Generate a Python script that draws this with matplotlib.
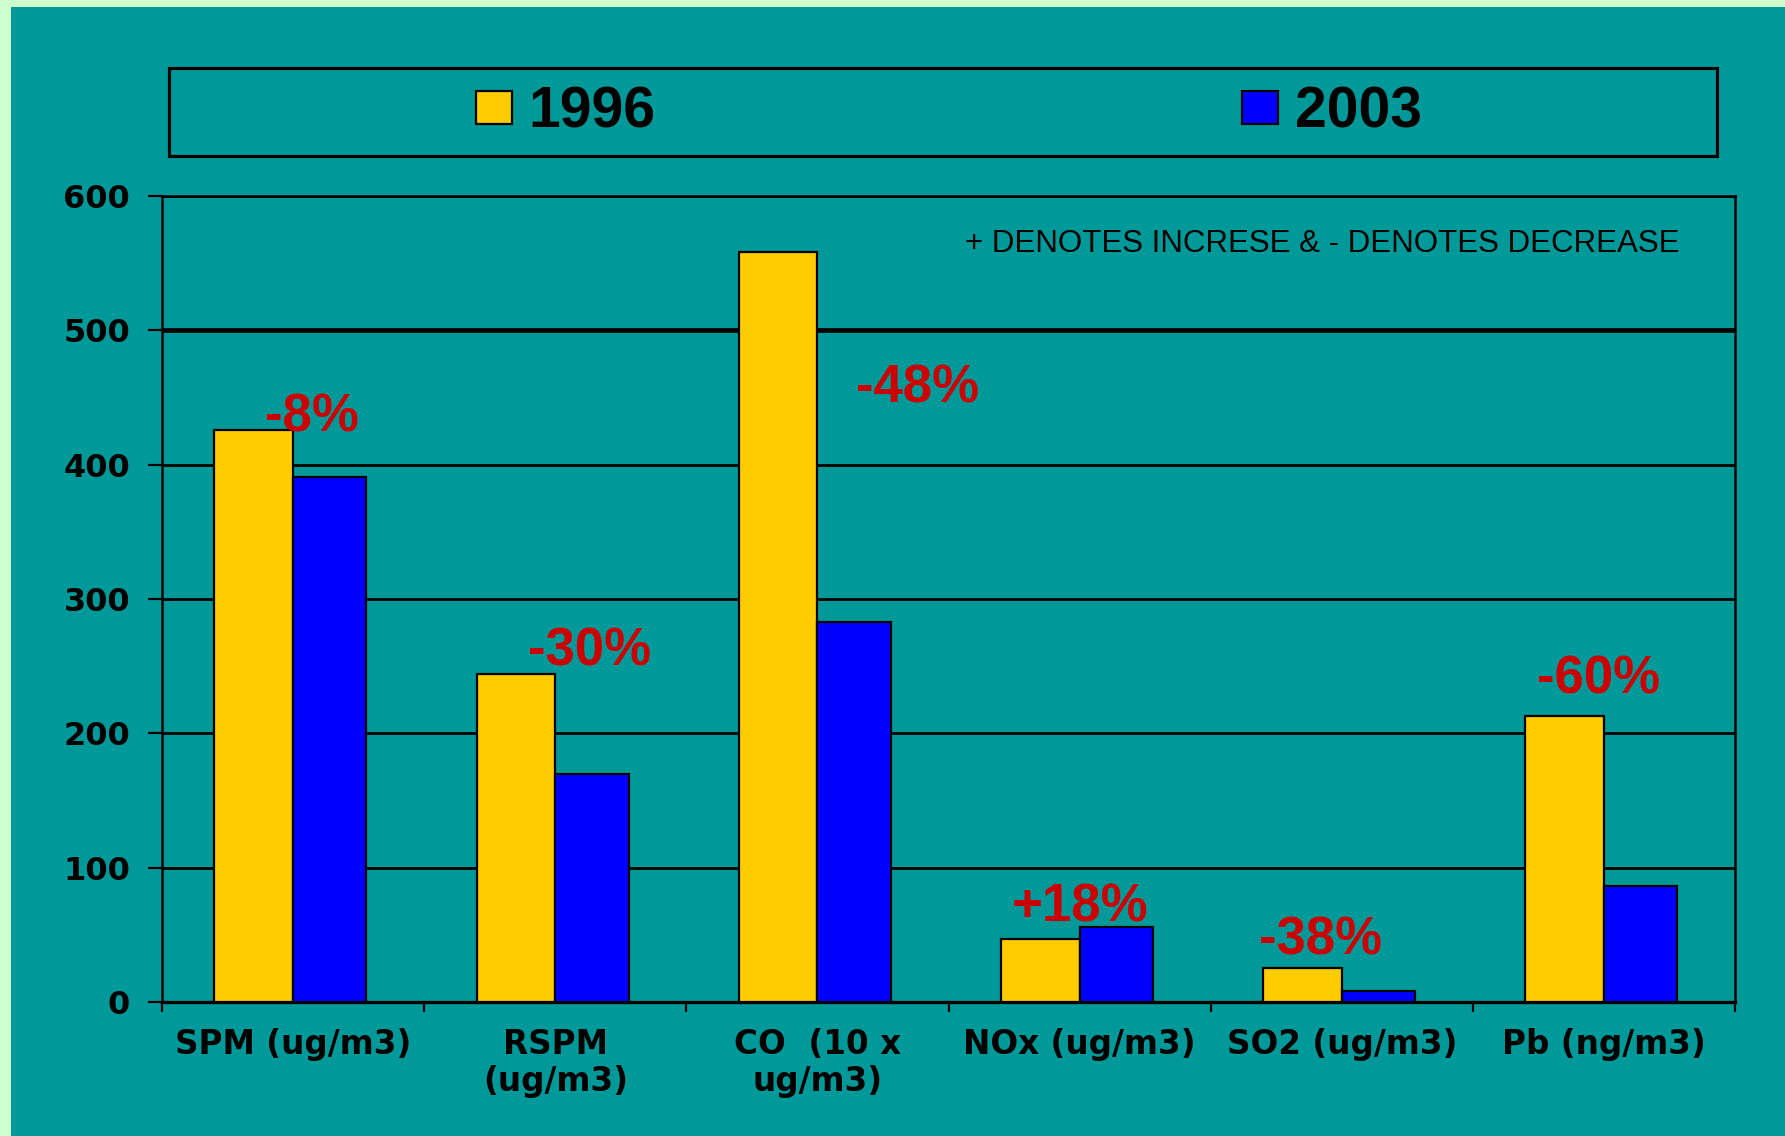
import matplotlib
matplotlib.use("Agg")
import matplotlib.pyplot as plt
from matplotlib.patches import Rectangle
import numpy as np

# ---- data ----
categories = ["SPM (ug/m3)", "RSPM\n(ug/m3)", "CO  (10 x\nug/m3)",
              "NOx (ug/m3)", "SO2 (ug/m3)", "Pb (ng/m3)"]
series_names = ["1996", "2003"]
values_1996 = [426, 244, 558, 47, 25, 213]
values_2003 = [391, 170, 283, 56, 8, 86]
change_labels = ["-8%", "-30%", "-48%", "+18%", "-38%", "-60%"]
y_ticks = [0, 100, 200, 300, 400, 500, 600]
note_text = "+ DENOTES INCRESE & - DENOTES DECREASE"

# annotation placement (offset from category centre, height in data units)
label_dx = [0.07, 0.13, 0.38, 0.0, -0.08, -0.02]
label_y = [435, 261, 457, 70, 46, 240]

TEAL = "#009999"
LIGHT = "#CCFFCC"
YELLOW = "#FFCC00"
BLUE = "#0000FF"
RED = "#CC0000"

W, H = 1785, 1136
fig = plt.figure(figsize=(W / 100, H / 100), dpi=100)
fig.patch.set_facecolor(LIGHT)
fig.patches.append(Rectangle((11 / W, 0), 1 - 11 / W, 1 - 7 / H,
                             transform=fig.transFigure, facecolor=TEAL,
                             edgecolor="none", zorder=0))

ax = fig.add_axes([162 / W, 1 - 1002 / H, (1735 - 162) / W, (1002 - 196) / H])
ax.set_facecolor(TEAL)
ax.set_zorder(1)

x = np.arange(len(categories))
b1 = ax.bar(x - 0.30, values_1996, width=0.30, align="edge", color=YELLOW,
            edgecolor="black", linewidth=1.6, zorder=3, label=series_names[0])
b2 = ax.bar(x, values_2003, width=0.28, align="edge", color=BLUE,
            edgecolor="black", linewidth=1.6, zorder=3, label=series_names[1])

ax.set_xlim(-0.5, len(categories) - 0.5)
ax.set_ylim(0, 600)

for t in y_ticks[1:]:
    ax.axhline(t, color="black", linewidth=3.4 if t == 500 else 2.0, zorder=1)

ax.set_yticks(y_ticks)
ax.set_yticklabels([str(t) for t in y_ticks], fontfamily="DejaVu Sans",
                   fontweight="bold", fontsize=23)
ax.tick_params(axis="y", direction="out", length=10, width=1.6, pad=13,
               colors="black")

ax.set_xticks(x)
ax.set_xticklabels(categories, fontfamily="DejaVu Sans", fontweight="bold",
                   fontsize=23.5, linespacing=1.12)
ax.tick_params(axis="x", which="major", length=0, pad=19)
ax.set_xticks(np.arange(len(categories) + 1) - 0.5, minor=True)
ax.tick_params(axis="x", which="minor", direction="out", length=7, width=1.6)

for s in ax.spines.values():
    s.set_color("black")
    s.set_linewidth(1.8)
ax.spines["bottom"].set_linewidth(2.4)

for i, lab in enumerate(change_labels):
    ax.text(x[i] + label_dx[i], label_y[i], lab, ha="center", va="center",
            color=RED, fontsize=38, fontweight="bold",
            fontfamily="Liberation Sans", zorder=4)

fig.text(965 / W, 1 - 244 / H, note_text, ha="left", va="center",
         fontsize=22.5, fontfamily="Liberation Sans", color="black", zorder=5)

# legend frame
fig.patches.append(Rectangle((169 / W, 1 - 156 / H), (1717 - 169) / W, 88 / H,
                             transform=fig.transFigure, facecolor="none",
                             edgecolor="black", linewidth=2.3, zorder=2))
leg = fig.legend(handles=[b1, b2], labels=series_names, loc="center",
                 bbox_to_anchor=(949 / W, 1 - 113 / H), ncol=2, frameon=False,
                 prop={"family": "Liberation Sans", "weight": "bold", "size": 41},
                 handlelength=0.62, handleheight=0.52, handletextpad=0.3,
                 columnspacing=10.3, borderpad=0, borderaxespad=0)

fig.savefig("out.png", dpi=100, facecolor=fig.get_facecolor())
